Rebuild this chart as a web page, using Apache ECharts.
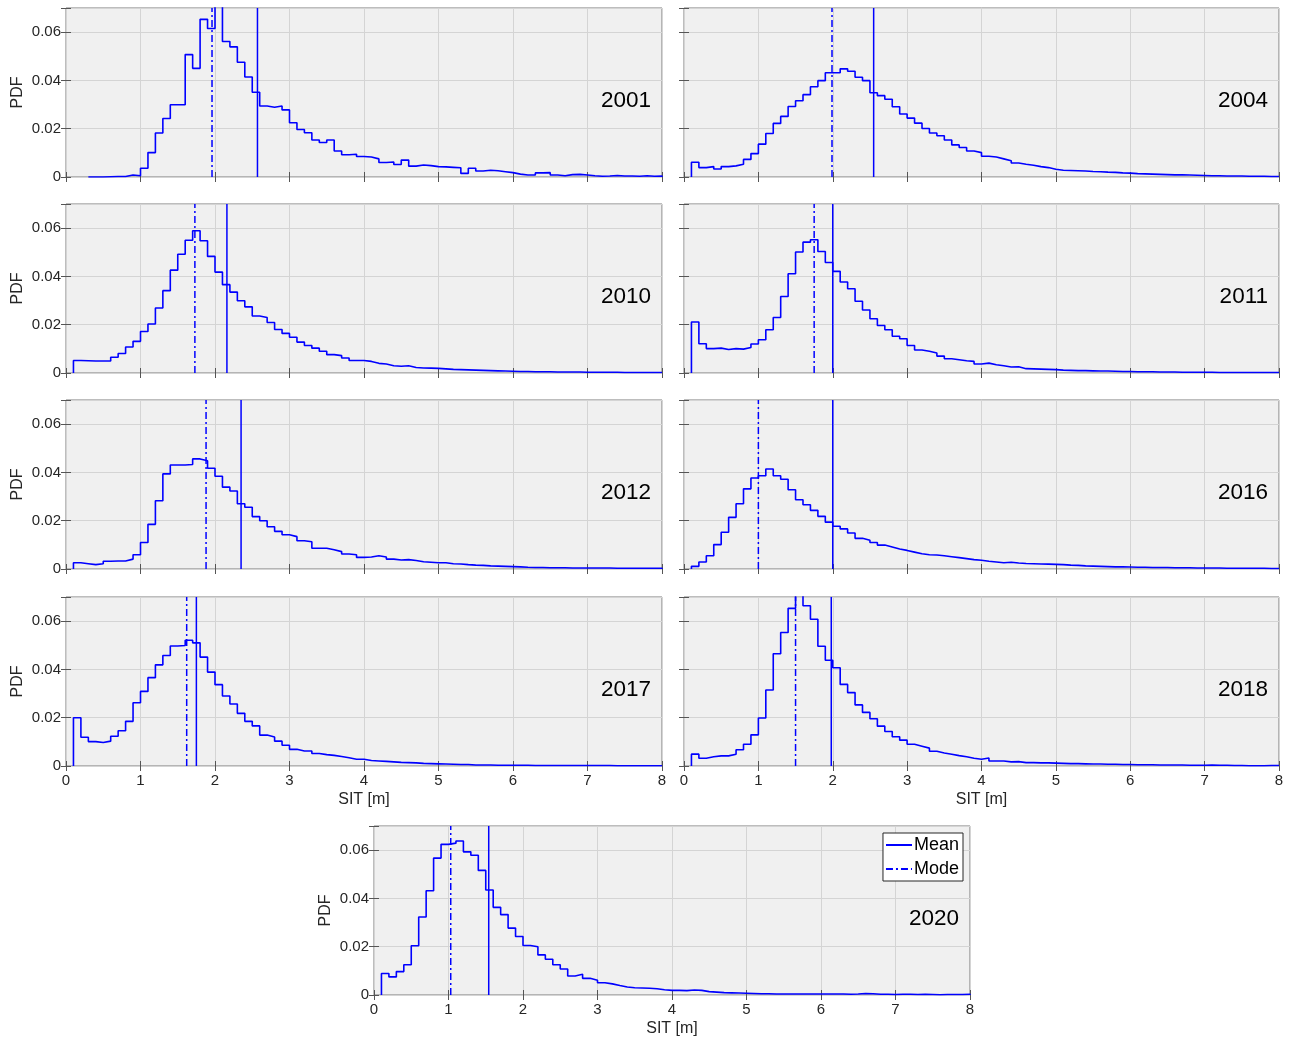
<!DOCTYPE html>
<html>
<head>
<meta charset="utf-8">
<title>SIT PDF</title>
<script src="https://cdn.jsdelivr.net/npm/echarts@6/dist/echarts.min.js"></script>
<style>
  html, body { margin: 0; padding: 0; background: #fff; }
  #chart { width: 1294px; height: 1043px; }
</style>
</head>
<body>
<div id="chart"></div>
<script>
// histogram bins are 0.1 m wide, first bin starts at binStart
const years = ['2001', '2004', '2010', '2011', '2012', '2016', '2017', '2018', '2020']
const binStart = [0.3, 0.1, 0.1, 0.1, 0.1, 0.1, 0.1, 0.1, 0.1]
const meanSIT = [2.57, 2.55, 2.16, 2.00, 2.35, 2.00, 1.75, 1.98, 1.54]
const modeSIT = [1.96, 1.99, 1.73, 1.75, 1.88, 1.00, 1.62, 1.50, 1.03]
const xTicks = [0, 1, 2, 3, 4, 5, 6, 7, 8]
const yTicks = [0, 0.02, 0.04, 0.06]

const pdf2001 = [
  0.0000, 0.0000, 0.0001, 0.0002, 0.0002, 0.0008, 0.0005,
  0.0036, 0.0101, 0.0182, 0.0242, 0.0299, 0.0299, 0.0507, 0.0450, 0.0653, 0.0615,
  0.0750, 0.0561, 0.0539, 0.0475, 0.0414, 0.0351, 0.0294, 0.0289, 0.0294, 0.0278,
  0.0225, 0.0197, 0.0183, 0.0153, 0.0143, 0.0153, 0.0108, 0.0092, 0.0094, 0.0085,
  0.0083, 0.0075, 0.0060, 0.0062, 0.0052, 0.0070, 0.0045, 0.0050, 0.0047, 0.0043,
  0.0042, 0.0040, 0.0038, 0.0015, 0.0036, 0.0025, 0.0028, 0.0026, 0.0022, 0.0018,
  0.0012, 0.0008, 0.0008, 0.0017, 0.0018, 0.0008, 0.0005, 0.0010, 0.0011, 0.0008,
  0.0005, 0.0003, 0.0004, 0.0006, 0.0004, 0.0004, 0.0003, 0.0005, 0.0003, 0.0004
]
const pdf2004 = [
  0.0061, 0.0039, 0.0043, 0.0033, 0.0043, 0.0046, 0.0053, 0.0073, 0.0097,
  0.0136, 0.0180, 0.0222, 0.0251, 0.0292, 0.0316, 0.0341, 0.0374, 0.0399, 0.0432,
  0.0432, 0.0448, 0.0438, 0.0413, 0.0399, 0.0349, 0.0337, 0.0322, 0.0291, 0.0261,
  0.0244, 0.0223, 0.0201, 0.0182, 0.0171, 0.0153, 0.0133, 0.0122, 0.0108, 0.0101,
  0.0086, 0.0083, 0.0075, 0.0067, 0.0058, 0.0053, 0.0049, 0.0043, 0.0039, 0.0032,
  0.0028, 0.0027, 0.0026, 0.0025, 0.0023, 0.0022, 0.0020, 0.0019, 0.0017, 0.0016,
  0.0014, 0.0013, 0.0012, 0.0011, 0.0010, 0.0009, 0.0009, 0.0008, 0.0007, 0.0006,
  0.0005, 0.0005, 0.0004, 0.0004, 0.0004, 0.0003, 0.0003, 0.0003, 0.0002, 0.0002
]
const pdf2010 = [
  0.0052, 0.0051, 0.0050, 0.0050, 0.0050, 0.0065, 0.0081, 0.0108, 0.0131,
  0.0172, 0.0203, 0.0269, 0.0341, 0.0426, 0.0492, 0.0550, 0.0589, 0.0548, 0.0483,
  0.0418, 0.0366, 0.0335, 0.0299, 0.0274, 0.0236, 0.0230, 0.0209, 0.0180, 0.0164,
  0.0148, 0.0128, 0.0114, 0.0103, 0.0090, 0.0076, 0.0072, 0.0062, 0.0052, 0.0052,
  0.0048, 0.0040, 0.0037, 0.0030, 0.0028, 0.0030, 0.0023, 0.0021, 0.0020, 0.0019,
  0.0017, 0.0015, 0.0014, 0.0013, 0.0012, 0.0011, 0.0010, 0.0009, 0.0008, 0.0007,
  0.0006, 0.0006, 0.0005, 0.0005, 0.0005, 0.0004, 0.0004, 0.0004, 0.0004, 0.0003,
  0.0003, 0.0003, 0.0003, 0.0003, 0.0002, 0.0002, 0.0002, 0.0002, 0.0002, 0.0002
]
const pdf2011 = [
  0.0211, 0.0121, 0.0101, 0.0103, 0.0097, 0.0101, 0.0099, 0.0106, 0.0120,
  0.0138, 0.0179, 0.0230, 0.0317, 0.0411, 0.0501, 0.0542, 0.0552, 0.0503, 0.0458,
  0.0421, 0.0377, 0.0349, 0.0297, 0.0261, 0.0225, 0.0197, 0.0179, 0.0152, 0.0142,
  0.0114, 0.0095, 0.0090, 0.0083, 0.0070, 0.0059, 0.0055, 0.0051, 0.0048, 0.0037,
  0.0041, 0.0034, 0.0030, 0.0025, 0.0026, 0.0018, 0.0017, 0.0016, 0.0015, 0.0014,
  0.0012, 0.0011, 0.0010, 0.0010, 0.0009, 0.0008, 0.0008, 0.0007, 0.0006, 0.0006,
  0.0005, 0.0005, 0.0005, 0.0004, 0.0004, 0.0004, 0.0003, 0.0003, 0.0003, 0.0003,
  0.0003, 0.0002, 0.0002, 0.0002, 0.0002, 0.0002, 0.0002, 0.0002, 0.0002, 0.0002
]
const pdf2012 = [
  0.0026, 0.0022, 0.0018, 0.0022, 0.0032, 0.0033, 0.0033, 0.0041, 0.0059,
  0.0110, 0.0185, 0.0283, 0.0394, 0.0431, 0.0431, 0.0433, 0.0456, 0.0448, 0.0417,
  0.0384, 0.0339, 0.0323, 0.0270, 0.0256, 0.0217, 0.0200, 0.0175, 0.0156, 0.0142,
  0.0134, 0.0117, 0.0113, 0.0086, 0.0086, 0.0080, 0.0072, 0.0062, 0.0059, 0.0048,
  0.0050, 0.0055, 0.0050, 0.0041, 0.0037, 0.0039, 0.0035, 0.0030, 0.0028, 0.0026,
  0.0026, 0.0022, 0.0021, 0.0018, 0.0016, 0.0015, 0.0013, 0.0012, 0.0011, 0.0010,
  0.0009, 0.0007, 0.0006, 0.0006, 0.0005, 0.0005, 0.0005, 0.0004, 0.0004, 0.0004,
  0.0004, 0.0004, 0.0004, 0.0003, 0.0003, 0.0003, 0.0003, 0.0003, 0.0003, 0.0003
]
const pdf2016 = [
  0.0011, 0.0029, 0.0055, 0.0101, 0.0152, 0.0214, 0.0270, 0.0332, 0.0377,
  0.0386, 0.0414, 0.0386, 0.0372, 0.0328, 0.0287, 0.0266, 0.0243, 0.0218, 0.0194,
  0.0177, 0.0166, 0.0149, 0.0127, 0.0119, 0.0110, 0.0099, 0.0091, 0.0083, 0.0077,
  0.0070, 0.0063, 0.0059, 0.0058, 0.0055, 0.0051, 0.0047, 0.0043, 0.0039, 0.0036,
  0.0032, 0.0029, 0.0026, 0.0028, 0.0025, 0.0023, 0.0022, 0.0021, 0.0020, 0.0019,
  0.0018, 0.0016, 0.0015, 0.0013, 0.0012, 0.0011, 0.0010, 0.0009, 0.0009, 0.0008,
  0.0007, 0.0007, 0.0006, 0.0006, 0.0006, 0.0005, 0.0005, 0.0005, 0.0004, 0.0004,
  0.0004, 0.0004, 0.0003, 0.0003, 0.0003, 0.0003, 0.0003, 0.0003, 0.0002, 0.0002
]
const pdf2017 = [
  0.0200, 0.0119, 0.0101, 0.0097, 0.0103, 0.0123, 0.0146, 0.0185, 0.0262,
  0.0309, 0.0366, 0.0419, 0.0458, 0.0497, 0.0499, 0.0521, 0.0510, 0.0451, 0.0389,
  0.0337, 0.0290, 0.0257, 0.0218, 0.0185, 0.0166, 0.0128, 0.0120, 0.0103, 0.0086,
  0.0069, 0.0062, 0.0062, 0.0052, 0.0047, 0.0044, 0.0039, 0.0034, 0.0028, 0.0028,
  0.0023, 0.0021, 0.0019, 0.0017, 0.0015, 0.0014, 0.0013, 0.0011, 0.0010, 0.0009,
  0.0008, 0.0007, 0.0006, 0.0006, 0.0004, 0.0004, 0.0004, 0.0003, 0.0003, 0.0003,
  0.0003, 0.0003, 0.0002, 0.0002, 0.0002, 0.0002, 0.0002, 0.0002, 0.0002, 0.0002,
  0.0002, 0.0002, 0.0002, 0.0001, 0.0001, 0.0001, 0.0001, 0.0001, 0.0001, 0.0001
]
const pdf2018 = [
  0.0049, 0.0032, 0.0038, 0.0042, 0.0042, 0.0049, 0.0067, 0.0090, 0.0129,
  0.0199, 0.0315, 0.0465, 0.0553, 0.0653, 0.0710, 0.0664, 0.0608, 0.0496, 0.0438,
  0.0407, 0.0338, 0.0304, 0.0253, 0.0222, 0.0196, 0.0165, 0.0143, 0.0121, 0.0107,
  0.0090, 0.0082, 0.0074, 0.0061, 0.0054, 0.0049, 0.0043, 0.0038, 0.0032, 0.0028,
  0.0033, 0.0021, 0.0021, 0.0017, 0.0018, 0.0014, 0.0014, 0.0013, 0.0013, 0.0012,
  0.0011, 0.0010, 0.0010, 0.0009, 0.0008, 0.0008, 0.0007, 0.0007, 0.0006, 0.0006,
  0.0005, 0.0005, 0.0005, 0.0004, 0.0004, 0.0004, 0.0004, 0.0003, 0.0003, 0.0003,
  0.0004, 0.0003, 0.0003, 0.0002, 0.0002, 0.0001, 0.0001, 0.0001, 0.0002, 0.0002
]
const pdf2020 = [
  0.0089, 0.0075, 0.0097, 0.0125, 0.0204, 0.0323, 0.0432, 0.0567, 0.0624,
  0.0629, 0.0638, 0.0593, 0.0579, 0.0516, 0.0435, 0.0363, 0.0333, 0.0277, 0.0242,
  0.0205, 0.0200, 0.0166, 0.0148, 0.0125, 0.0108, 0.0079, 0.0086, 0.0069, 0.0061,
  0.0051, 0.0046, 0.0039, 0.0033, 0.0030, 0.0029, 0.0028, 0.0026, 0.0022, 0.0019,
  0.0019, 0.0018, 0.0021, 0.0019, 0.0014, 0.0012, 0.0010, 0.0009, 0.0008, 0.0007,
  0.0006, 0.0005, 0.0005, 0.0004, 0.0004, 0.0004, 0.0004, 0.0004, 0.0004, 0.0004,
  0.0004, 0.0004, 0.0004, 0.0003, 0.0004, 0.0006, 0.0005, 0.0003, 0.0003, 0.0002,
  0.0003, 0.0003, 0.0002, 0.0003, 0.0002, 0.0001, 0.0002, 0.0002, 0.0002, 0.0003
]
const pdfs = [pdf2001, pdf2004, pdf2010, pdf2011, pdf2012, pdf2016, pdf2017, pdf2018, pdf2020]

const BIN = 0.1
const Y_MAX = 0.07
const BLUE = '#0000ff'
const FONT = '"Liberation Sans", Arial, Helvetica, sans-serif'
const TXT = '#262626'
const W = 1294

// panel boxes in px (left, top); same height everywhere
const PW_L = 596
const PW_R = 595
const PH = 169
const panels = [
  { left: 66, top: 8, w: PW_L }, { left: 684, top: 8, w: PW_R },
  { left: 66, top: 204, w: PW_L }, { left: 684, top: 204, w: PW_R },
  { left: 66, top: 400, w: PW_L }, { left: 684, top: 400, w: PW_R },
  { left: 66, top: 597, w: PW_L }, { left: 684, top: 597, w: PW_R },
  { left: 374, top: 826, w: PW_L }
]
const showYLabels = [true, false, true, false, true, false, true, false, true]
const showXLabels = [false, false, false, false, false, false, true, true, true]

// stairs outline of a histogram, as in matlab 'DisplayStyle','stairs'
function stairs(values, start) {
  const pts = [[start, 0]]
  values.forEach((v, i) => {
    pts.push([+(start + i * BIN).toFixed(2), v])
  })
  const end = +(start + values.length * BIN).toFixed(2)
  pts.push([end, 0])
  return pts
}

function yLabel(v) {
  if (v === 0) return '0'
  if (Math.abs(v - Y_MAX) < 1e-9) return ''
  return v.toFixed(2)
}

const grid = []
const xAxis = []
const yAxis = []
const series = []
const graphic = []

panels.forEach((p, i) => {
  grid.push({
    left: p.left,
    top: p.top,
    width: p.w,
    height: PH,
    show: true,
    backgroundColor: '#f0f0f0',
    borderColor: '#7a7a7a',
    borderWidth: 1
  })

  const tick = { show: true, inside: true, length: 5, lineStyle: { color: '#555', width: 1 } }

  xAxis.push({
    type: 'value',
    gridIndex: i,
    min: xTicks[0],
    max: xTicks[xTicks.length - 1],
    interval: 1,
    position: 'bottom',
    axisLine: { show: false },
    axisTick: tick,
    axisLabel: {
      show: showXLabels[i],
      color: TXT,
      fontFamily: FONT,
      fontSize: 15,
      margin: 7
    },
    splitLine: { show: true, lineStyle: { color: '#d4d4d4', width: 1 } },
    name: showXLabels[i] ? 'SIT [m]' : '',
    nameLocation: 'middle',
    nameGap: 26,
    nameTextStyle: { color: TXT, fontFamily: FONT, fontSize: 16 }
  })
  xAxis.push({
    type: 'value',
    gridIndex: i,
    min: xTicks[0],
    max: xTicks[xTicks.length - 1],
    interval: 1,
    position: 'top',
    axisLine: { show: false },
    axisTick: tick,
    axisLabel: { show: false },
    splitLine: { show: false }
  })

  yAxis.push({
    type: 'value',
    gridIndex: i,
    min: yTicks[0],
    max: Y_MAX,
    interval: 0.02,
    position: 'left',
    axisLine: { show: false },
    axisTick: tick,
    axisLabel: {
      show: showYLabels[i],
      color: TXT,
      fontFamily: FONT,
      fontSize: 15,
      margin: 5,
      formatter: yLabel
    },
    splitLine: { show: true, lineStyle: { color: '#d4d4d4', width: 1 } },
    name: showYLabels[i] ? 'PDF' : '',
    nameLocation: 'middle',
    nameGap: 40,
    nameRotate: 90,
    nameTextStyle: { color: TXT, fontFamily: FONT, fontSize: 16 }
  })
  yAxis.push({
    type: 'value',
    gridIndex: i,
    min: yTicks[0],
    max: Y_MAX,
    interval: 0.02,
    position: 'right',
    axisLine: { show: false },
    axisTick: tick,
    axisLabel: { show: false },
    splitLine: { show: false }
  })

  series.push({
    name: 'PDF ' + years[i],
    type: 'line',
    xAxisIndex: 2 * i,
    yAxisIndex: 2 * i,
    step: 'end',
    symbol: 'none',
    clip: true,
    data: stairs(pdfs[i], binStart[i]),
    lineStyle: { color: BLUE, width: 1.6 },
    z: 3
  })
  series.push({
    name: 'Mean',
    type: 'line',
    xAxisIndex: 2 * i,
    yAxisIndex: 2 * i,
    symbol: 'none',
    data: [[meanSIT[i], 0], [meanSIT[i], Y_MAX]],
    lineStyle: { color: BLUE, width: 1.5, type: 'solid' },
    itemStyle: { color: BLUE },
    z: 4
  })
  series.push({
    name: 'Mode',
    type: 'line',
    xAxisIndex: 2 * i,
    yAxisIndex: 2 * i,
    symbol: 'none',
    data: [[modeSIT[i], 0], [modeSIT[i], Y_MAX]],
    lineStyle: { color: BLUE, width: 1.5, type: [7, 3, 2, 3] },
    itemStyle: { color: BLUE },
    z: 4
  })

  graphic.push({
    type: 'text',
    right: W - (p.left + p.w - 11),
    top: p.top + 81,
    style: {
      text: years[i],
      fill: '#000',
      font: '22.5px ' + FONT
    },
    z: 10
  })
})

const chart = echarts.init(document.getElementById('chart'), null, { renderer: 'canvas' })
chart.setOption({
  animation: false,
  backgroundColor: '#fff',
  grid: grid,
  xAxis: xAxis,
  yAxis: yAxis,
  series: series,
  graphic: graphic,
  legend: {
    data: ['Mean', 'Mode'],
    orient: 'vertical',
    right: W - 963,
    top: 833,
    itemWidth: 26,
    itemHeight: 12,
    itemGap: 6,
    padding: [3, 4, 3, 2],
    backgroundColor: '#fff',
    borderColor: '#262626',
    borderWidth: 1,
    itemStyle: { opacity: 0 },
    textStyle: { color: '#000', fontFamily: FONT, fontSize: 18, padding: [0, 0, 0, -3] }
  }
})
</script>
</body>
</html>
